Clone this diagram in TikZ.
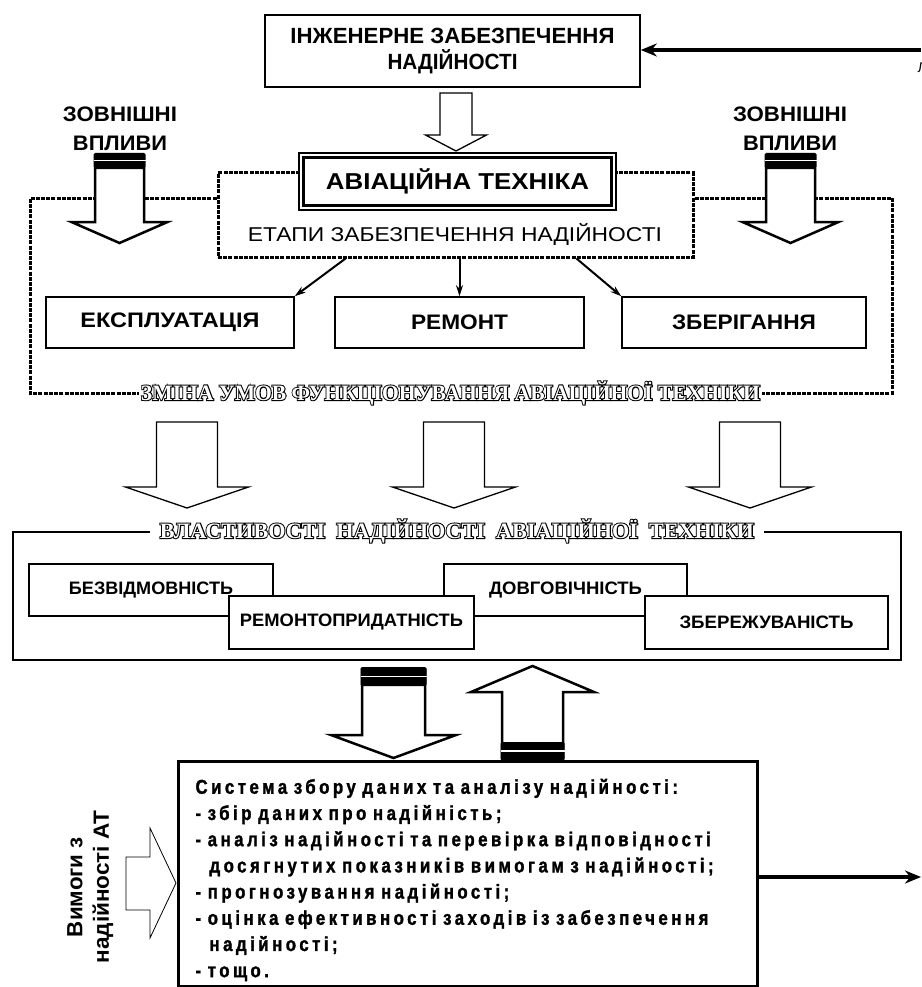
\documentclass[tikz,border=0pt]{standalone}
\usepackage{fontspec}
\usepackage{graphicx}
\setmainfont{Liberation Sans}
\newfontfamily\narrowsans{Liberation Sans}[FakeStretch=0.85]
\newfontfamily\boxsans{Liberation Sans}[FakeStretch=0.84, LetterSpace=17.5, BoldFeatures={FakeBold=1.5}]
\newfontfamily\titleblack{Liberation Serif}[BoldFeatures={FakeBold=9}]
\newfontfamily\titlewhite{Liberation Serif}
\usetikzlibrary{arrows.meta, positioning, calc}

\newcommand{\fitw}[2]{\resizebox{#1pt}{\height}{#2}}
% hollow block arrow: x, y tail, y head base, y tip, half shaft, half head
\newcommand{\blockarrow}[7][]{%
  \draw[hollow,#1] (#2-#6,#3) -- (#2-#6,#4) -- (#2-#7,#4) -- (#2,#5) -- (#2+#7,#4) -- (#2+#6,#4) -- (#2+#6,#3) -- cycle;}
% black double band on an arrow tail: x, y top, y bottom, half width
\newcommand{\arrowbands}[4]{%
  \fill[rounded corners=1.5pt] (#1-#4,#2) rectangle (#1+#4,#3);
  \draw[white, line width=1.6pt] (#1-#4,{(#2+#3)/2}) -- (#1+#4,{(#2+#3)/2});}

\tikzset{
  box/.style={draw, line width=1.6pt, fill=white, inner sep=0pt},
  dotline/.style={line width=3pt, dash pattern=on 4pt off 1.2pt},
  hollow/.style={draw, fill=white, line width=1.3pt},
  fathollow/.style={line width=2.5pt},
  link/.style={line width=2pt, -{Stealth[length=11pt, width=7pt]}},
  bigflow/.style={line width=4.5pt, -{Stealth[length=16pt, width=13pt]}},
  capsfont/.style={font=\narrowsans\bfseries\fontsize{22}{26}\selectfont},
  extfont/.style={font=\narrowsans\bfseries\fontsize{21}{25}\selectfont},
  stagefont/.style={font=\narrowsans\bfseries\fontsize{21}{24}\selectfont},
  propfont/.style={font=\narrowsans\bfseries\fontsize{18}{20}\selectfont},
  titlefont/.style={font=\titleblack\bfseries\fontsize{22}{24}\selectfont},
  titlefg/.style={text=white, inner sep=0pt, font=\titlewhite\bfseries\fontsize{22}{24}\selectfont}
}

\begin{document}
\begin{tikzpicture}[x=1pt, y=-1pt]
\useasboundingbox (0,0) rectangle (921,987);

% engineering box and incoming flow
\node[box, capsfont, minimum width=375, minimum height=72, align=center] (eng) at (452.5,51)
  {\fitw{324}{ІНЖЕНЕРНЕ ЗАБЕЗПЕЧЕННЯ}\\ \fitw{130}{НАДІЙНОСТІ}};
\coordinate (engin) at (921,50);
\draw[bigflow] (engin) -- (eng.east |- engin);
\node[anchor=west, font=\fontsize{14}{14}\selectfont] (cutlbl) at (914,68) {Л};
\blockarrow{456}{93}{135}{151}{16}{30.5}

% external influences
\node[extfont] (extL1) at (120,114) {\fitw{114}{ЗОВНІШНІ}};
\node[extfont] (extL2) at (120,143) {\fitw{94}{ВПЛИВИ}};
\node[extfont] (extR1) at (790,114) {\fitw{114}{ЗОВНІШНІ}};
\node[extfont] (extR2) at (790,143) {\fitw{94}{ВПЛИВИ}};

% changing conditions frame
\node[fill=white, inner xsep=2pt, inner ysep=1pt, titlefont] (zmina) at (450.5,393)
  {\fitw{619}{ЗМІНА УМОВ ФУНКЦІОНУВАННЯ АВІАЦІЙНОЇ ТЕХНІКИ}};
\node[titlefg] (zminafg) at (zmina)
  {\fitw{619}{ЗМІНА УМОВ ФУНКЦІОНУВАННЯ АВІАЦІЙНОЇ ТЕХНІКИ}};
\node[draw, dotline, minimum width=475, minimum height=84] (etapy) at (455.5,215) {};
\coordinate (frameL) at (30,198);
\coordinate (frameR) at (892,198);
\draw[dotline] (etapy.west |- frameL) -- (frameL) -- (frameL |- zmina) -- (zmina.west);
\draw[dotline] (etapy.east |- frameR) -- (frameR) -- (frameR |- zmina) -- (zmina.east);

% aviation equipment
\node[draw, line width=1.2pt, fill=white, minimum width=317, minimum height=57,
  font=\bfseries\fontsize{23}{26}\selectfont] (avi) at (457.5,181.5) {\fitw{263}{АВІАЦІЙНА ТЕХНІКА}};
\draw[line width=3.5pt] ([shift={(5,5)}]avi.north west) rectangle ([shift={(-5,-5)}]avi.south east);
\node[font=\fontsize{20}{22}\selectfont] (etapylbl) at (455,234) {\fitw{414}{ЕТАПИ ЗАБЕЗПЕЧЕННЯ НАДІЙНОСТІ}};

\blockarrow[fathollow]{119.5}{168}{222}{243}{24.5}{48}
\arrowbands{119.5}{153}{168}{26}
\blockarrow[fathollow]{790.5}{168}{222}{243}{24.5}{48}
\arrowbands{790.5}{153}{168}{26}

% stages
\node[box, stagefont, minimum width=248, minimum height=51] (expl) at (170,322.5) {\fitw{179}{ЕКСПЛУАТАЦІЯ}};
\node[box, stagefont, minimum width=249, minimum height=51] (repair) at (459.5,322.5) {\fitw{97}{РЕМОНТ}};
\node[box, stagefont, minimum width=244, minimum height=51] (store) at (744,322.5) {\fitw{144}{ЗБЕРІГАННЯ}};
\draw[link] ($(etapy.south west)!0.27!(etapy.south east)$) -- (expl.north east);
\draw[link] (etapy.south -| repair) -- (repair.north);
\draw[link] ($(etapy.south west)!0.753!(etapy.south east)$) -- (store.north west);

\foreach \x in {187,454,750}{
  \blockarrow{\x}{422}{487}{508}{30.5}{61.5}
}

% reliability properties
\node[draw, line width=2pt, minimum width=888, minimum height=128] (props) at (457,596) {};
\node[fill=white, inner xsep=10pt, inner ysep=1pt, titlefont] (propstitle) at (props.north)
  {\fitw{594}{ВЛАСТИВОСТІ\ \ НАДІЙНОСТІ\ \ АВІАЦІЙНОЇ\ \ ТЕХНІКИ}};
\node[titlefg] (propstitlefg) at (propstitle)
  {\fitw{594}{ВЛАСТИВОСТІ\ \ НАДІЙНОСТІ\ \ АВІАЦІЙНОЇ\ \ ТЕХНІКИ}};
\node[box, propfont, minimum width=244, minimum height=52] (fail) at (151,590) {\fitw{164}{БЕЗВІДМОВНІСТЬ}};
\node[box, propfont, minimum width=243, minimum height=52] (durab) at (565.5,590) {\fitw{153}{ДОВГОВІЧНІСТЬ}};
\node[box, propfont, minimum width=245, minimum height=53] (maint) at (351.5,622.5) {\fitw{223}{РЕМОНТОПРИДАТНІСТЬ}};
\node[box, propfont, minimum width=243, minimum height=53] (keep) at (766.5,622.5) {\fitw{174}{ЗБЕРЕЖУВАНІСТЬ}};

% data flows
\blockarrow[fathollow]{393.5}{669}{735}{758}{31.5}{62.5}
\arrowbands{393.5}{667}{686}{33}
\blockarrow[fathollow]{532.5}{760}{692}{666}{30.5}{61.5}
\arrowbands{532.5}{742}{760}{32}

% data collection system
\node[draw, line width=3pt, anchor=north west, minimum width=579, minimum height=225] (datasys) at (177,760) {};
\node[text width=545, inner sep=0pt, align=left,
  font=\boxsans\bfseries\fontsize{20}{26.2}\selectfont] (datatext) at ($(datasys.center)+(0,6)$)
  {Система збору даних та аналізу надійності:\\
   - збір даних про надійність;\\
   \makebox[545pt][s]{- аналіз надійності та перевірка відповідності}\\
   \hspace*{14pt}досягнутих показників вимогам з надійності;\\
   - прогнозування надійності;\\
   \makebox[545pt][s]{- оцінка ефективності заходів із забезпечення}\\
   \hspace*{14pt}надійності;\\
   - тощо.};
\coordinate (dataout) at (921,877);
\draw[bigflow] (datasys.east |- dataout) -- (dataout);

% requirements
\draw[hollow, line width=0.8pt] (126,857) -- (150,857) -- (150,828) -- (176,883) -- (150,938) -- (150,910) -- (126,910) -- cycle;
\node[rotate=90, font=\bfseries\fontsize{22}{24}\selectfont] (req1) at (75,887) {\fitw{100}{Вимоги з}};
\node[rotate=90, font=\bfseries\fontsize{22}{24}\selectfont] (req2) at (103,887) {\fitw{153}{надійності АТ}};
\end{tikzpicture}
\end{document}
